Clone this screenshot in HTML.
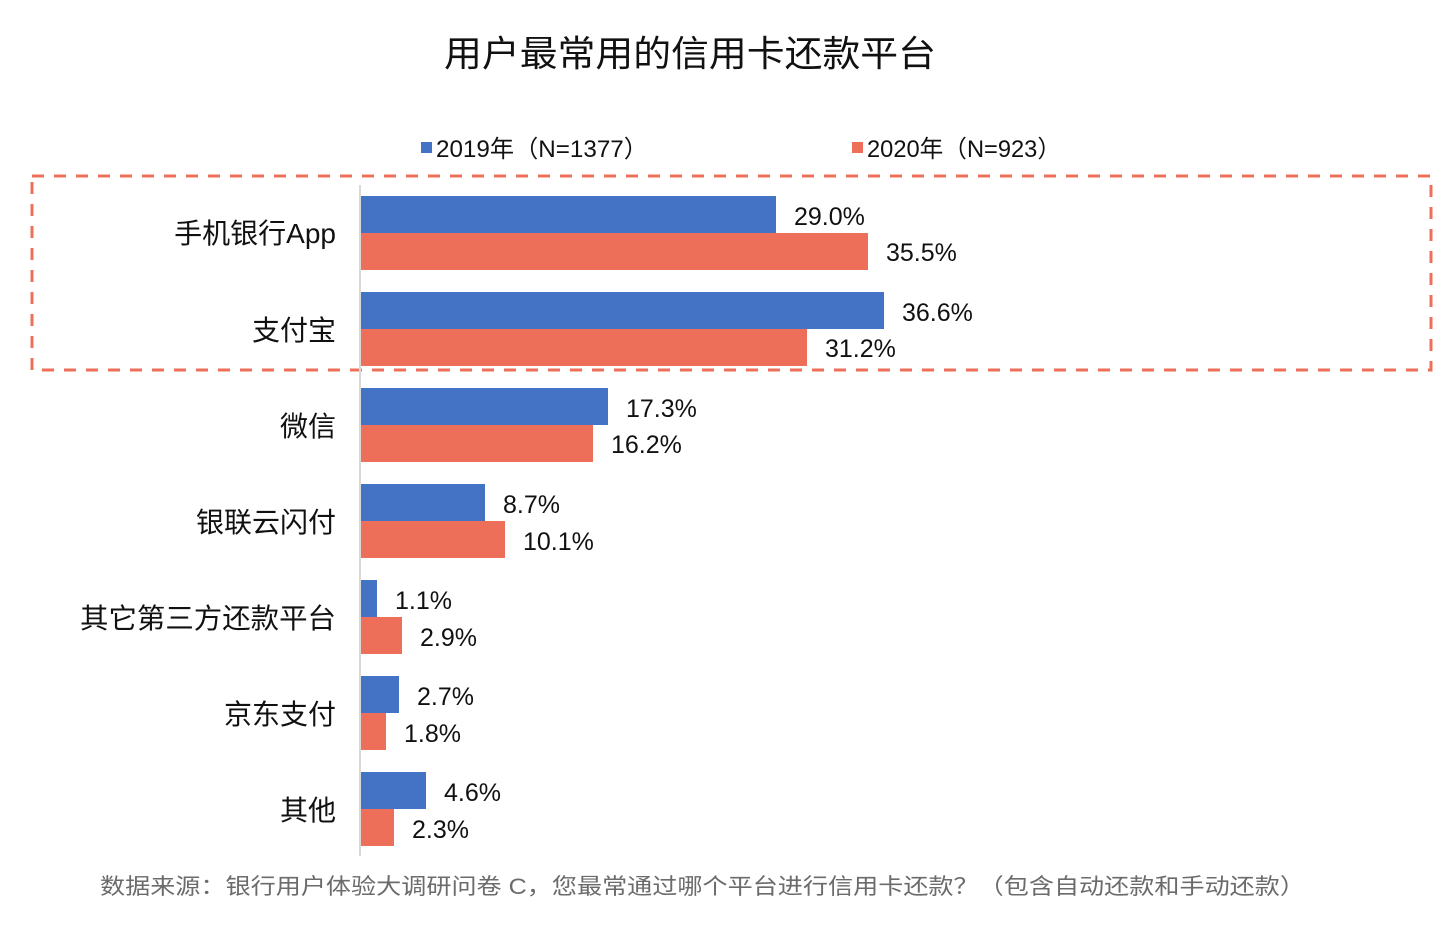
<!DOCTYPE html>
<html><head><meta charset="utf-8"><style>
html,body{margin:0;padding:0;background:#fff;}
svg{display:block;font-family:"Liberation Sans","Noto Sans CJK SC",sans-serif;}
</style></head><body>
<svg width="1448" height="934" viewBox="0 0 1448 934" xmlns="http://www.w3.org/2000/svg">
<text x="690" y="66" font-size="36" text-anchor="middle" fill="#111" textLength="492" lengthAdjust="spacingAndGlyphs">用户最常用的信用卡还款平台</text>
<rect x="421" y="142" width="11" height="11" fill="#4472c4"/>
<text x="436" y="157" font-size="24" fill="#111" textLength="212" lengthAdjust="spacingAndGlyphs">2019年（N=1377）</text>
<rect x="852" y="142" width="11" height="11" fill="#ed6f5a"/>
<text x="867" y="157" font-size="24" fill="#111" textLength="194" lengthAdjust="spacingAndGlyphs">2020年（N=923）</text>
<rect x="32" y="176" width="1399" height="194" fill="none" stroke="#ed6f5a" stroke-width="3" stroke-dasharray="12,10"/>
<line x1="360" y1="185" x2="360" y2="856" stroke="#d9d9d9" stroke-width="2"/>
<g font-size="25" fill="#111">
<rect x="361" y="196" width="415" height="37" fill="#4472c4"/>
<rect x="361" y="233" width="507" height="37" fill="#ed6f5a"/>
<text x="794" y="225">29.0%</text><text x="886" y="261">35.5%</text>
<rect x="361" y="292" width="523" height="37" fill="#4472c4"/>
<rect x="361" y="329" width="446" height="37" fill="#ed6f5a"/>
<text x="902" y="321">36.6%</text><text x="825" y="357">31.2%</text>
<rect x="361" y="388" width="247" height="37" fill="#4472c4"/>
<rect x="361" y="425" width="232" height="37" fill="#ed6f5a"/>
<text x="626" y="417">17.3%</text><text x="611" y="453">16.2%</text>
<rect x="361" y="484" width="124" height="37" fill="#4472c4"/>
<rect x="361" y="521" width="144" height="37" fill="#ed6f5a"/>
<text x="503" y="513">8.7%</text><text x="523" y="550">10.1%</text>
<rect x="361" y="580" width="16" height="37" fill="#4472c4"/>
<rect x="361" y="617" width="41" height="37" fill="#ed6f5a"/>
<text x="395" y="609">1.1%</text><text x="420" y="646">2.9%</text>
<rect x="361" y="676" width="38" height="37" fill="#4472c4"/>
<rect x="361" y="713" width="25" height="37" fill="#ed6f5a"/>
<text x="417" y="705">2.7%</text><text x="404" y="742">1.8%</text>
<rect x="361" y="772" width="65" height="37" fill="#4472c4"/>
<rect x="361" y="809" width="33" height="37" fill="#ed6f5a"/>
<text x="444" y="801">4.6%</text><text x="412" y="838">2.3%</text>
</g>
<g font-size="28" fill="#111" text-anchor="end">
<text x="336" y="243">手机银行App</text>
<text x="336" y="340">支付宝</text>
<text x="336" y="436">微信</text>
<text x="336" y="532">银联云闪付</text>
<text x="336" y="628" textLength="256" lengthAdjust="spacingAndGlyphs">其它第三方还款平台</text>
<text x="336" y="724">京东支付</text>
<text x="336" y="820">其他</text>
</g>
<text x="100" y="894" font-size="22" fill="#6b6b6b" textLength="1205" lengthAdjust="spacingAndGlyphs">数据来源：银行用户体验大调研问卷 C，您最常通过哪个平台进行信用卡还款？（包含自动还款和手动还款）</text>
</svg>
</body></html>
